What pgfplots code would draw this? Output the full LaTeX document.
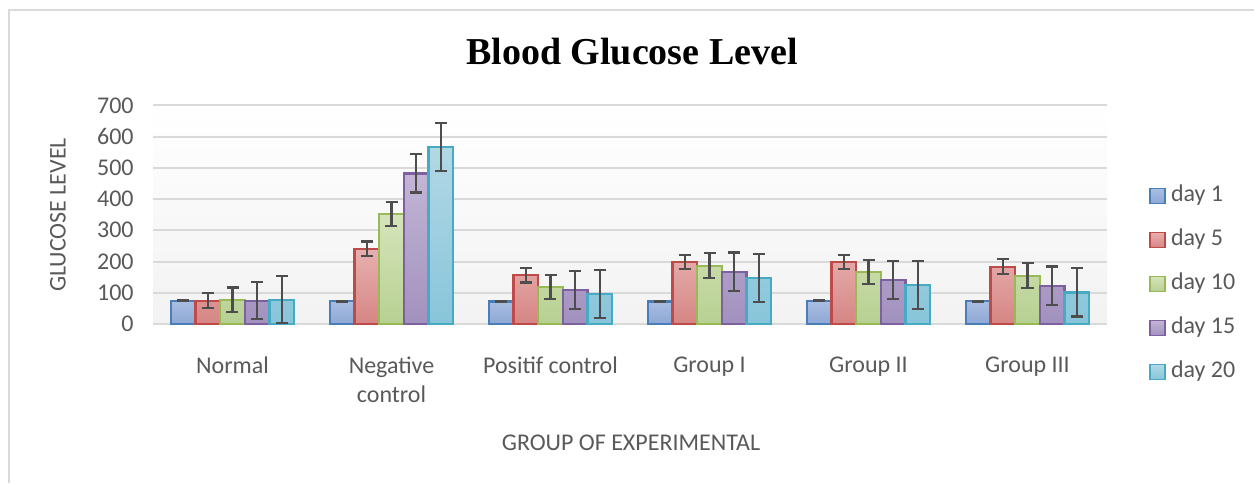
\documentclass[border=0pt]{standalone}
\usepackage{pgfplots}
\pgfplotsset{compat=1.18}
\usepackage{fontspec}
\setmainfont{Carlito}
\newfontfamily\titlefont{Liberation Serif}
\definecolor{txt}{HTML}{595959}
\definecolor{gridc}{HTML}{D9D9D9}
\definecolor{errc}{HTML}{4D4D4D}
\definecolor{dA}{HTML}{4A7EBB}\definecolor{tA}{HTML}{AABEE1}\definecolor{bA}{HTML}{8DA8D5}
\definecolor{dB}{HTML}{BE4B48}\definecolor{tB}{HTML}{E6B0AF}\definecolor{bB}{HTML}{D68684}
\definecolor{dC}{HTML}{98B954}\definecolor{tC}{HTML}{D5E4BA}\definecolor{bC}{HTML}{B7D092}
\definecolor{dD}{HTML}{7D60A0}\definecolor{tD}{HTML}{C2B5D5}\definecolor{bD}{HTML}{A291BE}
\definecolor{dE}{HTML}{46AAC5}\definecolor{tE}{HTML}{B2D8E5}\definecolor{bE}{HTML}{88C5DA}
\begin{document}
\begin{tikzpicture}[x=0.75pt,y=0.75pt]
\path[use as bounding box] (0,0) rectangle (1254,483);
\coordinate (A) at (153,159);
\draw[gridc, line width=1.5pt] (9,0) -- (9,473) -- (1254,473);
\node[font=\titlefont\bfseries\fontsize{28.5}{32}\selectfont, text=black] at (632,431) {Blood Glucose Level};
\node[font=\fontsize{18}{20}\selectfont, text=txt, rotate=90] at (58,268) {GLUCOSE LEVEL};
\node[font=\fontsize{18}{20}\selectfont, text=txt] at (631,40) {GROUP OF EXPERIMENTAL};
\begin{axis}[
  at={(A)}, anchor=south west,
  scale only axis, width=715.5pt, height=164pt,
  xmin=-0.5, xmax=5.5, ymin=0, ymax=700,
  ytick={0,100,...,700},
  xtick={0,1,2,3,4,5},
  xticklabels={Normal,{Negative\\control},Positif control,Group I,Group II,Group III},
  ymajorgrids, grid style={gridc, line width=1.5pt},
  axis line style={draw=none},
  major tick length=0pt,
  axis background/.style={shade, top color=white, bottom color=gray!10},
  /pgf/number format/assume math mode=true,
  tick label style={font=\fontsize{18}{20}\selectfont, text=txt},
  yticklabel style={xshift=-11pt},
  xticklabel style={align=center, yshift=-21pt, font=\fontsize{18}{22}\selectfont},
  ybar=0pt, bar width=0.155,
  error bars/y dir=both, error bars/y explicit,
  error bars/error bar style={errc, line width=1.6pt},
  error bars/error mark options={rotate=90, errc, mark size=4.5pt, line width=1.6pt},
  legend style={at={(1.04,0.183)}, anchor=west, draw=none, fill=none,
    font=\fontsize{18}{20}\selectfont, text=txt, row sep=16pt,
    nodes={inner sep=1pt, text height=12pt, text depth=3pt},
    /tikz/every odd column/.append style={column sep=3pt}},
  legend cell align=left,
  legend image code/.code={\draw[#1, line width=1.2pt] (0pt,-5.5pt) rectangle (11pt,5.5pt);},
]
\addplot[draw=dA, line width=1.6pt, top color=tA, bottom color=bA] coordinates {
 (0,75) +- (0,1) (1,73) +- (0,1) (2,72) +- (0,1) (3,72) +- (0,1) (4,75) +- (0,1) (5,73) +- (0,1)};
\addplot[draw=dB, line width=1.6pt, top color=tB, bottom color=bB] coordinates {
 (0,75) +- (0,23) (1,241) +- (0,23) (2,156) +- (0,23) (3,199) +- (0,23) (4,198) +- (0,23) (5,183) +- (0,24)};
\addplot[draw=dC, line width=1.6pt, top color=tC, bottom color=bC] coordinates {
 (0,78) +- (0,39) (1,352) +- (0,39) (2,119) +- (0,39) (3,187) +- (0,39) (4,167) +- (0,39) (5,155) +- (0,39)};
\addplot[draw=dD, line width=1.6pt, top color=tD, bottom color=bD] coordinates {
 (0,75) +- (0,60) (1,482) +- (0,61) (2,110) +- (0,61) (3,167) +- (0,62) (4,142) +- (0,61) (5,122) +- (0,62)};
\addplot[draw=dE, line width=1.6pt, top color=tE, bottom color=bE] coordinates {
 (0,78) +- (0,76) (1,567) +- (0,77) (2,97) +- (0,77) (3,148) +- (0,77) (4,126) +- (0,77) (5,101) +- (0,77)};
\legend{day 1,day 5,day 10,day 15,day 20}
\end{axis}
\end{tikzpicture}
\end{document}
